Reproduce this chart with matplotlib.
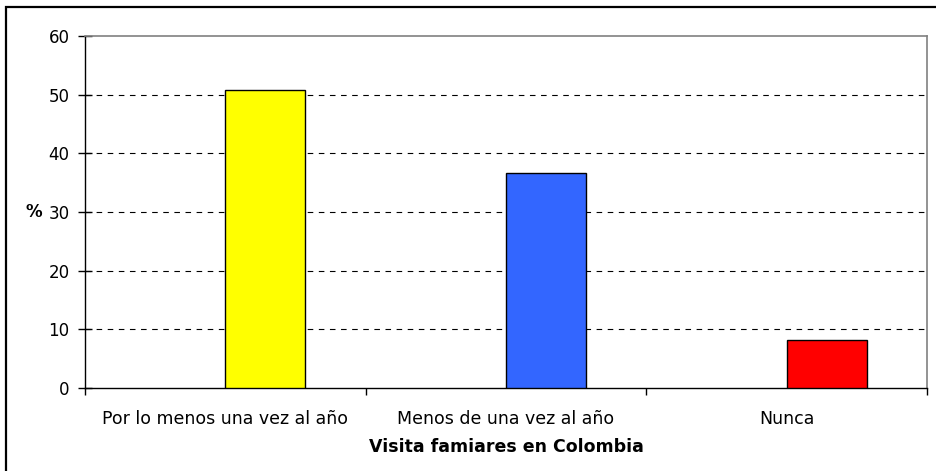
import numpy as np
import matplotlib.pyplot as plt
from matplotlib.patches import Rectangle

categorias = ["Por lo menos una vez al año", "Menos de una vez al año", "Nunca"]
porcentajes = [50.8, 36.7, 8.2]
colores = ["#FFFF00", "#3366FF", "#FF0000"]

plt.rcParams['font.family'] = ['DejaVu Sans']

fig = plt.figure(figsize=(9.36, 4.71), dpi=100)
ax = fig.add_axes([85/936, 1-388/471, 842/936, 352/471])

x = np.arange(len(categorias))
# barras empiezan en el centro de la categoria (como en excel con serie vacia)
ax.bar(x, porcentajes, width=0.285, align='edge', color=colores,
       edgecolor='black', linewidth=1.0, zorder=3)

ax.set_xlim(-0.5, 2.5)
ax.set_ylim(0, 60)
ax.set_yticks(range(0, 61, 10))
for y in range(10, 60, 10):
    ax.axhline(y, color='black', linestyle=(0, (5, 5)), linewidth=0.8, zorder=1)

ax.set_xticks([-0.5, 0.5, 1.5, 2.5])
ax.set_xticklabels([])
ax.set_xticks(x, minor=True)
ax.set_xticklabels(categorias, minor=True, fontsize=12.5)
ax.tick_params(axis='x', which='minor', length=0, pad=16)
ax.tick_params(axis='x', which='major', direction='out', length=5, width=1)
ax.tick_params(axis='y', direction='inout', length=10, width=1, labelsize=12, pad=6)

for s in ['top', 'right']:
    ax.spines[s].set_color('#808080')
    ax.spines[s].set_linewidth(1.2)
for s in ['left', 'bottom']:
    ax.spines[s].set_linewidth(1.0)

ax.set_xlabel("Visita famiares en Colombia", fontsize=12.5, fontweight='bold', labelpad=7)
ax.set_ylabel("%", fontsize=12, fontweight='bold', rotation=0, va='center')
ax.yaxis.set_label_coords(-0.061, 0.5)

# marco exterior
fig.patches.append(Rectangle((6/936, -0.1), 1.2, 1-7/471+0.1, transform=fig.transFigure,
                             fill=False, edgecolor='black', linewidth=1.6))

fig.savefig("out.png", dpi=100)
